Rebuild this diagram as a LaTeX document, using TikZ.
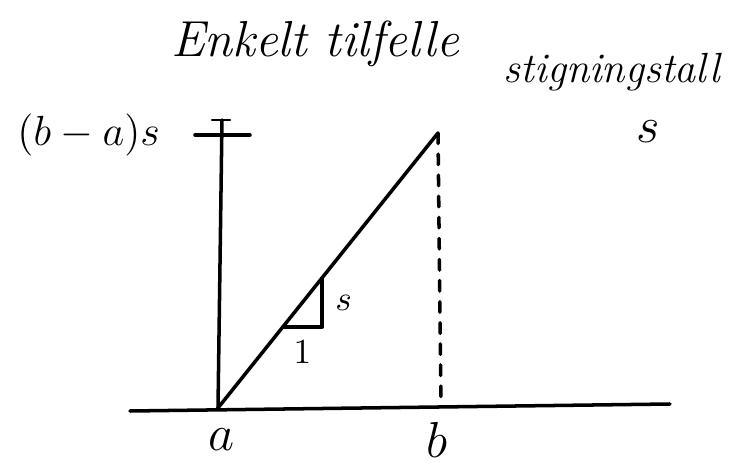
\documentclass[tikz,border=0pt]{standalone}
\usepackage{amsmath}
\usetikzlibrary{positioning}

\begin{document}
\begin{tikzpicture}[line width=1pt, line cap=round]
            \useasboundingbox (0,0) rectangle (7.52,4.64);
            % Draw points
            \coordinate (a) at (2.18,0.56);
            \coordinate (b) at (4.41,0.58);
            \coordinate (top) at (4.38,3.31);
            \coordinate (yaxis) at (2.22,3.44);
            \coordinate (xleft) at (1.30,0.53);
            \coordinate (xright) at (6.70,0.60);
            \coordinate (tickl) at (1.95,3.29);
            \coordinate (tickr) at (2.50,3.29);
            \coordinate (dashl) at (2.12,3.44);
            \coordinate (dashr) at (2.30,3.44);
            \coordinate (tri1) at (2.83,1.37);
            \coordinate (tri2) at (3.22,1.37);
            \coordinate (tri3) at (3.22,1.86);

            % Draw labels
            \node[font=\Large\itshape] (title) at (3.15,4.20) {Enkelt tilfelle};
            \node[font=\large\itshape] (stig) at (6.12,3.92) {stigningstall};
            \node[font=\Large] (sstig) at (6.48,3.32) {$s$};
            \node[font=\large, anchor=west] (height) at (0.04,3.29) {$(b-a)s$};
            \node[font=\Large] (alabel) at (2.22,0.24) {$a$};
            \node[font=\Large] (blabel) at (4.37,0.24) {$b$};

            % Draw connections
            \draw (xleft) -- (xright);
            \draw (a) -- (yaxis);
            \draw (tickl) -- (tickr);
            \draw[line width=0.6pt] (dashl) -- (dashr);
            \draw (a) -- (top);
            \draw[dashed] (top) -- (b);
            \draw (tri1) -- (tri2) node[midway, below] {$1$};
            \draw (tri2) -- (tri3) node[midway, right] {$s$};
        \end{tikzpicture}
\end{document}
